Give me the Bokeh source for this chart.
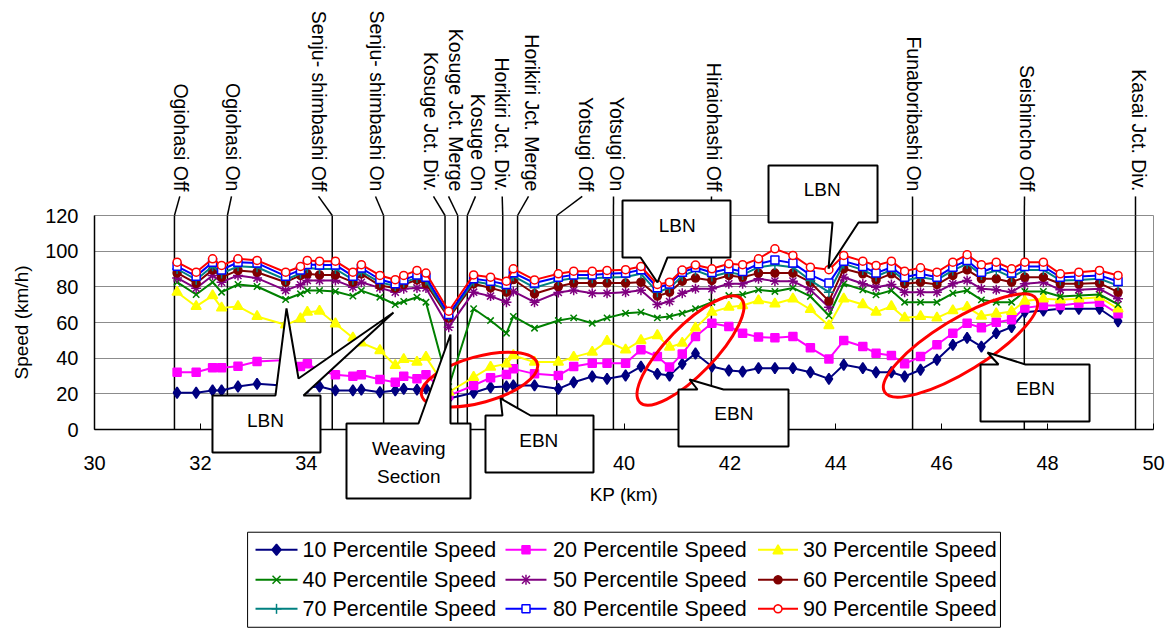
import math
from bokeh.plotting import figure
from bokeh.models import Range1d, FixedTicker
from bokeh.core.properties import value
from bokeh.embed import file_html
from bokeh.resources import INLINE

FONT = "Liberation Sans"

# ---------------- data ----------------
kp = [31.56, 31.92, 32.23, 32.40, 32.71, 33.07, 33.61, 33.89, 34.02, 34.25, 34.55, 34.88, 35.04, 35.39,
      35.68, 35.84, 36.09, 36.26, 36.69, 37.16, 37.48, 37.78, 37.91, 38.31, 38.76, 39.05, 39.40, 39.68,
      40.03, 40.32, 40.63, 40.86, 41.10, 41.35, 41.66, 41.98, 42.24, 42.54, 42.85, 43.19, 43.52, 43.87,
      44.15, 44.51, 44.76, 45.05, 45.30, 45.60, 45.91, 46.21, 46.48, 46.75, 47.03, 47.32, 47.57, 47.92,
      48.24, 48.59, 48.98, 49.33]

p10 = [20.6, 20.6, 21.9, 21.9, 24.1, 25.6, 24.5, 23.5, 23.5, 24.1, 21.9, 21.9, 22.4, 20.9, 21.9, 22.8, 22.4, 23.0, 17.4,
       20.6, 23.7, 24.1, 24.7, 24.7, 22.8, 26.5, 29.7, 28.4, 30.3, 35.3, 31.2, 30.3, 36.8, 42.6, 35.3,
       33.1, 32.5, 34.4, 34.4, 34.4, 32.1, 28.4, 36.3, 34.4, 32.1, 32.1, 29.7, 33.5, 39.1, 47.5, 51.4, 46.5,
       54.0, 57.4, 65.8, 66.7, 67.7, 67.7, 67.7, 60.7]
p20 = [32.1, 32.1, 34.6, 34.6, 35.5, 38.1, 39.0, 35.3, 36.8, 33.0, 30.7, 29.9, 30.7, 28.0, 26.5, 29.9, 28.4, 30.7, 19.0,
       24.7, 29.0, 30.8, 34.0, 31.2, 30.3, 35.3, 37.2, 37.2, 37.2, 44.7, 40.9, 35.0, 42.4, 52.1, 59.6,
       57.8, 54.0, 51.8, 51.4, 52.1, 45.8, 39.6, 49.9, 46.5, 42.8, 41.5, 36.8, 40.9, 47.5, 54.0, 59.6, 57.0,
       60.2, 61.5, 68.2, 69.5, 69.5, 70.8, 71.4, 64.9]
p30 = [77.0, 69.0, 75.1, 68.2, 69.0, 63.4, 58.7, 62.1, 65.8, 66.4, 59.3, 51.4, 48.6, 44.3, 35.9, 39.3, 37.8, 40.6, 21.0,
       29.3, 35.0, 36.8, 41.5, 37.8, 37.8, 40.6, 43.4, 49.5, 44.7, 49.9, 52.7, 46.2, 48.4, 57.0, 65.8,
       68.6, 69.5, 72.3, 70.5, 73.3, 67.3, 58.3, 73.3, 70.1, 65.8, 69.0, 62.6, 63.4, 62.6, 66.7, 68.6, 63.6,
       64.9, 66.2, 72.0, 73.3, 72.7, 73.3, 74.2, 67.7]
p40 = [82.6, 75.7, 82.6, 77.0, 81.3, 80.2, 72.9, 76.1, 77.9, 77.9, 77.4, 74.8, 77.9, 74.2, 70.1, 71.8, 74.2, 71.4, 24.0,
       67.7, 61.1, 54.0, 63.4, 56.8, 61.1, 62.6, 59.6, 62.6, 65.2, 65.8, 62.6, 63.4, 65.2, 67.7, 71.4,
       75.1, 75.7, 78.3, 77.4, 79.4, 74.6, 63.9, 81.7, 78.3, 75.5, 77.9, 71.4, 71.4, 71.4, 76.4, 77.9, 72.7,
       71.4, 71.4, 77.4, 77.4, 74.6, 75.1, 75.7, 70.1]
p50 = [85.0, 79.2, 86.4, 82.6, 86.4, 84.9, 78.0, 81.1, 83.6, 83.6, 83.6, 79.8, 82.6, 79.4, 77.0, 78.9, 79.4, 79.4, 57.4,
       77.0, 74.8, 71.4, 77.4, 71.4, 76.8, 78.1, 76.4, 76.4, 77.0, 78.1, 70.1, 71.8, 76.4, 78.9, 78.9,
       81.7, 81.7, 84.5, 83.2, 83.2, 78.3, 68.6, 85.4, 81.7, 79.8, 81.3, 77.0, 77.0, 77.0, 81.7, 83.6, 78.9,
       78.3, 77.0, 81.7, 82.6, 78.3, 78.3, 78.9, 73.3]
p60 = [87.8, 82.0, 89.5, 85.4, 89.2, 88.2, 82.6, 86.4, 87.3, 86.7, 86.7, 82.6, 87.3, 80.7, 79.4, 81.3, 83.9, 81.7, 62.5,
       81.7, 79.4, 77.0, 84.1, 76.1, 80.2, 82.1, 82.1, 82.1, 82.1, 82.6, 74.8, 77.0, 83.2, 84.9, 83.6,
       86.4, 85.4, 87.7, 87.7, 87.7, 82.6, 72.0, 90.1, 87.3, 83.9, 87.3, 81.7, 82.6, 81.3, 86.4, 89.5, 84.5,
       84.5, 82.6, 85.4, 85.4, 81.7, 81.7, 82.1, 77.0]
p70 = [90.0, 84.0, 91.5, 87.5, 91.5, 91.0, 84.0, 87.5, 90.5, 90.0, 90.0, 84.0, 88.5, 82.5, 80.5, 82.5, 85.0, 83.5, 63.5,
       83.0, 81.5, 79.0, 86.0, 79.5, 83.5, 84.8, 84.8, 85.2, 85.5, 87.3, 77.0, 79.4, 86.0, 89.2, 85.8,
       88.2, 86.7, 91.0, 92.3, 91.0, 83.6, 77.0, 92.9, 89.5, 85.8, 89.5, 83.6, 85.4, 83.9, 89.2, 92.9, 86.7,
       89.2, 85.4, 89.5, 89.5, 83.6, 83.9, 84.5, 80.7]
p80 = [91.5, 86.0, 93.8, 89.5, 93.8, 93.3, 86.0, 89.5, 92.5, 92.3, 92.3, 86.0, 90.5, 84.1, 81.7, 83.9, 86.7, 85.4, 64.5,
       84.5, 83.2, 81.3, 87.9, 82.1, 85.4, 86.7, 86.7, 87.3, 87.7, 89.6, 79.5, 81.6, 88.2, 90.8, 88.0,
       90.1, 88.6, 92.9, 95.1, 93.3, 86.7, 82.1, 94.4, 91.4, 87.7, 91.0, 85.4, 87.3, 85.4, 91.0, 94.8, 88.2,
       91.4, 87.7, 91.4, 91.4, 85.4, 85.8, 86.4, 83.0]
p90 = [93.8, 88.2, 95.7, 92.0, 95.7, 94.8, 88.2, 91.4, 94.8, 94.4, 94.4, 88.2, 92.4, 86.4, 84.0, 86.4, 89.2, 87.7, 66.3,
       86.7, 85.4, 83.2, 90.1, 83.9, 87.3, 88.8, 88.8, 89.2, 89.6, 91.4, 81.3, 82.6, 89.4, 92.2, 90.1,
       92.9, 92.4, 95.7, 101.3, 97.6, 91.0, 89.6, 97.6, 94.4, 92.0, 94.4, 88.8, 90.7, 88.2, 93.8, 98.0, 92.4,
       93.8, 90.1, 93.8, 93.8, 87.3, 88.2, 89.2, 86.4]

series_names = ["10 Percentile Speed", "20 Percentile Speed", "30 Percentile Speed",
                "40 Percentile Speed", "50 Percentile Speed", "60 Percentile Speed",
                "70 Percentile Speed", "80 Percentile Speed", "90 Percentile Speed"]
series_values = [p10, p20, p30, p40, p50, p60, p70, p80, p90]

x_ticks = [30, 32, 34, 36, 38, 40, 42, 44, 46, 48, 50]
y_ticks = [0, 20, 40, 60, 80, 100, 120]

# landmarks (KP of the vertical line, KP of label centre, KP of leader start)
lm_names = ["Ogiohasi Off", "Ogiohasi On", "Senju- shimbashi Off", "Senju- shimbashi On",
            "Kosuge Jct. Div.", "Kosuge Jct. Merge", "Kosuge On", "Horikiri Jct. Div.",
            "Horikiri Jct. Merge", "Yotsugi Off", "Yotsugi On", "Hiraiohashi Off",
            "Funaboribashi On", "Seishincho Off", "Kasai Jct. Div."]
lm_kp = [31.51, 32.51, 34.49, 35.46, 36.62, 36.86, 37.04, 37.71, 37.99, 38.73, 39.80, 41.65, 45.45, 47.56, 49.66]
lm_text_kp = [31.637, 32.625, 34.249, 35.339, 36.346, 36.818, 37.252, 37.700, 38.266, 39.273, 39.877,
              41.709, 45.486, 47.620, 49.717]
lm_leader_kp = [31.611, 32.587, 34.230, 35.307, 36.402, 36.686, 37.195, 37.700, 38.197, 39.211, 39.802,
                41.652, 45.449, 47.564, 49.660]

# ---------------- layout / styles ----------------
W, H = 1170, 628
FL, FR, FT, FB = 94, 1153, 215, 429          # frame edges in canvas pixels
SX = (FR - FL) / 20.0                        # px per km
SY = (FB - FT) / 120.0                       # px per km/h

styles = [
    dict(color="#000080", marker="diamond", size=11, fill="#000080"),
    dict(color="#FF00FF", marker="square", size=8, fill="#FF00FF"),
    dict(color="#FFFF00", marker="triangle", size=10, fill="#FFFF00"),
    dict(color="#008000", marker="x", size=9, fill="#008000"),
    dict(color="#800080", marker="asterisk", size=10, fill="#800080"),
    dict(color="#800000", marker="circle", size=8, fill="#800000"),
    dict(color="#008080", marker="cross", size=10, fill="#008080"),
    dict(color="#0000FF", marker="square", size=8, fill="white"),
    dict(color="#FF0000", marker="circle", size=8, fill="white"),
]

p = figure(width=W, height=H, output_backend="svg", toolbar_location=None,
           x_range=Range1d(30, 50), y_range=Range1d(0, 120),
           min_border_left=FL, min_border_right=W - FR, min_border_top=FT, min_border_bottom=H - FB,
           x_axis_label="KP (km)", y_axis_label="Speed (km/h)")
p.background_fill_color = "white"
p.border_fill_color = "white"
p.outline_line_color = "#8c8c8c"
p.xgrid.visible = False
p.ygrid.grid_line_color = "#8c8c8c"
p.ygrid.grid_line_width = 1
p.xaxis.ticker = FixedTicker(ticks=x_ticks)
p.yaxis.ticker = FixedTicker(ticks=y_ticks)
for ax in (p.xaxis[0], p.yaxis[0]):
    ax.axis_line_color = "black"
    ax.axis_line_width = 1.5
    ax.major_label_text_font = FONT
    ax.major_label_text_font_size = "20px"
    ax.major_label_text_color = "black"
    ax.axis_label_text_font = FONT
    ax.axis_label_text_font_size = "19px"
    ax.axis_label_text_font_style = "normal"
    ax.axis_label_text_color = "black"
    ax.minor_tick_line_color = None
p.xaxis.major_tick_in = 6
p.xaxis.major_tick_out = 0
p.xaxis.major_tick_line_color = "black"
p.yaxis.major_tick_in = 0
p.yaxis.major_tick_out = 0
p.yaxis.major_tick_line_color = None
p.xaxis.major_label_standoff = 26
p.yaxis.major_label_standoff = 16
p.xaxis.axis_label_standoff = 11
p.yaxis.axis_label_standoff = 10

n = len(lm_kp)
# landmark vertical lines
p.segment(x0=lm_kp, y0=[0] * n, x1=lm_kp, y1=[120] * n, line_color="black", line_width=1.5)

# series
for name, vals, st in zip(series_names, series_values, styles):
    p.line(kp, vals, line_color=st["color"], line_width=2)
    p.scatter(kp, vals, marker=st["marker"], size=st["size"], line_color=st["color"],
              fill_color=st["fill"], line_width=1.5)

# red ellipses (screen-size)
p.ellipse(x=[37.271, 41.256, 46.355], y=[28.0, 44.3, 47.1],
          width=[120, 145, 178], height=[46, 48, 52], angle=[0.27, 0.80, 0.55],
          width_units="screen", height_units="screen",
          fill_color=None, line_color="#FF0000", line_width=3)

# leaders to landmark labels
p.segment(x0=lm_leader_kp, y0=[130.7] * n, x1=lm_kp, y1=[120] * n, line_color="black",
          line_width=1.5, level="overlay")
p.text(x=lm_text_kp, y=[133.5] * n, text=lm_names, angle=-math.pi / 2, text_align="right",
       text_baseline="middle", text_font=value(FONT), text_font_size=value("19.5px"),
       text_color="black", level="overlay")

# callouts (polygon vertices in KP / km/h)
callouts = [
    ([32.228, 33.418, 33.626, 33.853, 35.647, 33.947, 34.268, 34.268, 32.228],
     [19.07, 19.07, 67.86, 28.60, 65.62, 19.07, 19.07, -12.90, -12.90]),
    ([34.759, 36.119, 36.723, 36.723, 37.101, 37.101, 34.759],
     [3.37, 3.37, 53.28, 3.37, 3.37, -38.70, -38.70]),
    ([37.384, 37.705, 37.668, 38.234, 39.424, 39.424, 37.384],
     [7.85, 7.85, 17.39, 7.85, 7.85, -24.12, -24.12]),
    ([41.029, 41.388, 41.237, 41.879, 43.107, 43.107, 41.029],
     [22.43, 22.43, 28.04, 22.43, 22.43, -9.53, -9.53]),
    ([46.733, 47.073, 46.865, 47.583, 48.792, 48.792, 46.733],
     [36.46, 36.46, 43.19, 36.46, 36.46, 4.49, 4.49]),
    ([39.972, 42.011, 42.011, 40.822, 40.633, 40.312, 39.972],
     [128.43, 128.43, 96.47, 96.47, 82.45, 96.47, 96.47]),
    ([42.729, 44.788, 44.788, 44.429, 43.862, 43.938, 42.729],
     [148.07, 148.07, 116.10, 116.10, 90.30, 116.10, 116.10]),
]
for xs, ys in callouts:
    p.patch(xs, ys, fill_color="white", line_color="black", line_width=2, level="overlay")

ct_text = ["LBN", "Weaving", "Section", "EBN", "EBN", "EBN", "LBN", "LBN"]
ct_x = [33.23, 35.936, 35.936, 38.391, 42.074, 47.771, 41.005, 43.743]
ct_y = [5.05, -10.8, -26.4, -6.17, 8.8, 22.8, 114.4, 134.4]
p.text(x=ct_x, y=ct_y, text=ct_text, text_align="center", text_baseline="middle",
       text_font=value(FONT), text_font_size=value("19px"), text_color="black", level="overlay")

# ---------------- legend (drawn below the axis, 3 x 3) ----------------
leg_box = dict(left=32.891, right=47.110, top=-57.6, bottom=-110.9)
leg_col_line = [(33.041, 33.834), (37.762, 38.536), (42.531, 43.286)]
leg_col_text = [33.928, 38.659, 43.381]
leg_row_y = [-67.47, -84.30, -100.56]


def poly(pts_px, cx, cy):
    return [cx + dx / SX for dx, dy in pts_px], [cy + dy / SY for dx, dy in pts_px]


def ngon(r, k=16):
    return [(r * math.cos(2 * math.pi * i / k), r * math.sin(2 * math.pi * i / k)) for i in range(k)]


SHAPES = {
    "diamond": ("fill", [[(0, 5.5), (4.5, 0), (0, -5.5), (-4.5, 0)]]),
    "square": ("fill", [[(-4, -4), (4, -4), (4, 4), (-4, 4)]]),
    "triangle": ("fill", [[(-5, -4), (5, -4), (0, 5)]]),
    "circle": ("fill", [ngon(4)]),
    "x": ("line", [[(-4, -4), (4, 4)], [(-4, 4), (4, -4)]]),
    "asterisk": ("line", [[(0, -5), (0, 5)], [(-4, -4), (4, 4)], [(-4, 4), (4, -4)]]),
    "cross": ("line", [[(-5, 0), (5, 0)], [(0, -5), (0, 5)]]),
}

p.quad(left=[leg_box["left"]], right=[leg_box["right"]], top=[leg_box["top"]],
       bottom=[leg_box["bottom"]], fill_color="white", line_color="black", line_width=1,
       level="overlay")
for i, (name, st) in enumerate(zip(series_names, styles)):
    r, c = divmod(i, 3)
    x0, x1 = leg_col_line[c]
    yy = leg_row_y[r]
    cx = (x0 + x1) / 2
    p.segment(x0=[x0], y0=[yy], x1=[x1], y1=[yy], line_color=st["color"], line_width=2,
              level="overlay")
    kind, parts = SHAPES[st["marker"]]
    if kind == "fill":
        xs, ys = poly(parts[0], cx, yy)
        p.patch(xs, ys, fill_color=st["fill"], line_color=st["color"], line_width=1.5,
                level="overlay")
    else:
        mx, my = [], []
        for seg in parts:
            sx_, sy_ = poly(seg, cx, yy)
            mx.append(sx_)
            my.append(sy_)
        p.multi_line(mx, my, line_color=st["color"], line_width=1.5, level="overlay")
    p.text(x=[leg_col_text[c]], y=[yy], text=[name], text_align="left", text_baseline="middle",
           text_font=value(FONT), text_font_size=value("21.5px"), text_color="black",
           level="overlay")

open("out.html", "w").write(file_html(p, INLINE))
